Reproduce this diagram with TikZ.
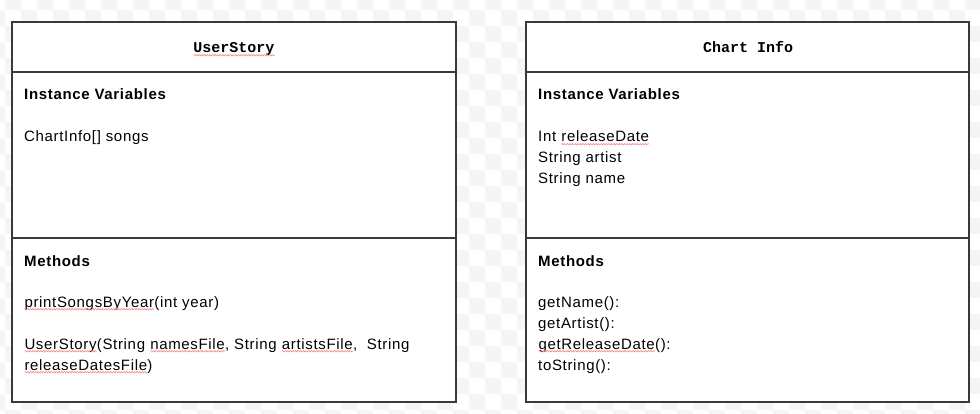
\documentclass[tikz,border=0pt]{standalone}
\usepackage{fontspec}
\setmainfont{Liberation Sans}[LetterSpace=4.5]
\newfontfamily\titlefont{Liberation Mono}[BoldFont={Liberation Mono Bold}]
\usetikzlibrary{decorations.pathmorphing}
\definecolor{chk}{HTML}{F5F5F5}
\definecolor{sq}{HTML}{F08A8A}
\definecolor{frame}{HTML}{3A3A3A}
\newcommand\spl[1]{\tikz[baseline=(w.base)]{\node[inner sep=0pt,outer sep=0pt](w){#1};\draw[sq,line width=0.6pt,decorate,decoration={snake,amplitude=0.7pt,segment length=2.6pt}] ([yshift=-2.2pt]w.base west) -- ([yshift=-2.2pt]w.base east);}}
\begin{document}
\begin{tikzpicture}[x=1pt,y=-1pt,
  boxline/.style={draw=frame,line width=1.3pt},
  ttl/.style={anchor=base,inner sep=0pt,font=\titlefont\bfseries\fontsize{15}{21}\selectfont},
  hdr/.style={anchor=base west,inner sep=0pt,font=\bfseries\fontsize{15}{21}\selectfont},
  txt/.style={anchor=base west,inner sep=0pt,font=\fontsize{15}{21}\selectfont}]
\useasboundingbox (0,0) rectangle (980,414);
\fill[white] (0,0) rectangle (980,414);
% checkerboard background
\foreach \r in {0,...,26}{
  \foreach \c in {0,...,61}{
    \pgfmathtruncatemacro\odd{mod(\r+\c,2)}
    \ifnum\odd=1
      \fill[chk] ({\c*16-11},{\r*16-6}) rectangle ++(16,16);
    \fi
  }
}
% Left class box
\fill[white] (12,22) rectangle (456,402);
\draw[boxline] (12,22) rectangle (456,402);
\draw[boxline] (12,72) -- (456,72);
\draw[boxline] (12,238) -- (456,238);
% Right class box
\fill[white] (526,22) rectangle (969,402);
\draw[boxline] (526,22) rectangle (969,402);
\draw[boxline] (526,72) -- (969,72);
\draw[boxline] (526,238) -- (969,238);
% Left texts
\node[ttl] (t1) at (234,53) {\spl{UserStory}};
\node[hdr] (iv1) at (24,100) {Instance Variables};
\node[txt] (v1) at (24,142) {ChartInfo[] songs};
\node[hdr] (m1) at (24,266) {Methods};
\node[txt] (m1a) at (24,307) {\spl{printSongsByYear}(int year)};
\node[txt] (m1b) at (24,349) {\spl{UserStory}(String \spl{namesFile}, String \spl{artistsFile}, \ String};
\node[txt] (m1c) at (24,370) {\spl{releaseDatesFile})};
% Right texts
\node[ttl] (t2) at (748,53) {Chart Info};
\node[hdr] (iv2) at (538,100) {Instance Variables};
\node[txt] (v2a) at (538,142) {Int \spl{releaseDate}};
\node[txt] (v2b) at (538,163) {String artist};
\node[txt] (v2c) at (538,184) {String name};
\node[hdr] (m2) at (538,266) {Methods};
\node[txt] (m2a) at (538,307) {getName():};
\node[txt] (m2b) at (538,328) {getArtist():};
\node[txt] (m2c) at (538,349) {\spl{getReleaseDate}():};
\node[txt] (m2d) at (538,370) {toString():};
\end{tikzpicture}
\end{document}
